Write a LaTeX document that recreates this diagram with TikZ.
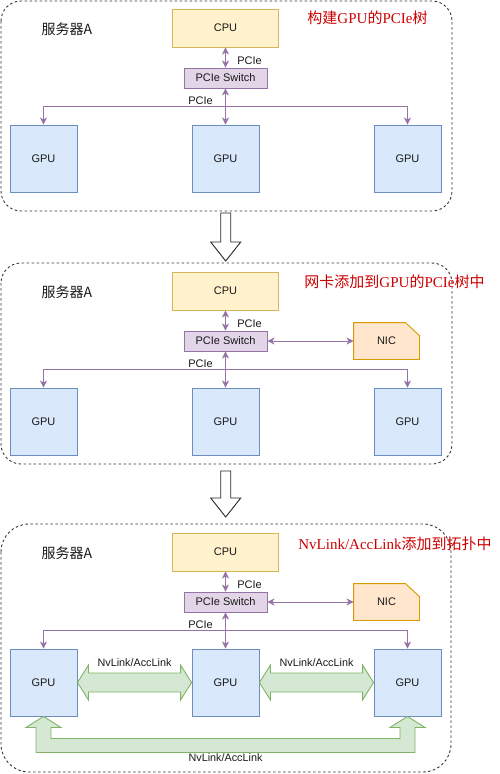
\documentclass[tikz,border=0pt]{standalone}
\usepackage{fontspec}
\setmainfont{Liberation Sans}
\newfontfamily\cjk{Noto Sans CJK SC}
\newfontfamily\tnr{Liberation Serif}
\usepackage{xcolor}
\usetikzlibrary{positioning,calc,arrows.meta,backgrounds}
\definecolor{cpufill}{HTML}{FFF2CC}
\definecolor{cpuline}{HTML}{D6B656}
\definecolor{swfill}{HTML}{E1D5E7}
\definecolor{swline}{HTML}{9673A6}
\definecolor{gpufill}{HTML}{DAE8FC}
\definecolor{gpuline}{HTML}{6C8EBF}
\definecolor{nicfill}{HTML}{FFE6CC}
\definecolor{nicline}{HTML}{D79B00}
\definecolor{nvfill}{HTML}{D5E8D4}
\definecolor{nvline}{HTML}{82B366}
\definecolor{titlered}{HTML}{CC0000}

\begin{document}
\begin{tikzpicture}[x=1pt,y=-1pt,
        >={Stealth[length=7pt,width=7pt,inset=2pt]},
        panel/.style={draw=black!80, line width=0.9pt, dash pattern=on 2.5pt off 2.5pt},
        box/.style={draw, line width=0.9pt, text=black!90, font=\fontsize{11}{13}\selectfont},
        cpubox/.style={box, draw=cpuline, fill=cpufill, minimum width=106pt, minimum height=38pt},
        swbox/.style={box, draw=swline, fill=swfill, minimum width=83pt, minimum height=20pt, inner sep=1pt},
        gpubox/.style={box, draw=gpuline, fill=gpufill, minimum size=67pt},
        nicbox/.style={box, draw=none, minimum width=65pt, minimum height=36pt},
        nicshape/.style={draw=nicline, fill=nicfill, line width=0.9pt},
        pcie/.style={draw=swline, line width=1pt},
        lbl/.style={text=black!90, font=\fontsize{11}{13}\selectfont, inner sep=0pt},
        nvlabel/.style={text=black!90, font=\fontsize{10.8}{12}\selectfont, inner sep=0pt},
        server/.style={text=black!90, font=\cjk\fontsize{14}{16}\selectfont, inner sep=0pt},
        title/.style={text=titlered, font=\tnr\fontsize{15}{18}\selectfont, inner sep=0pt},
        nvlink/.style={draw=nvline, fill=nvfill, line width=0.9pt},
        bigarrow/.style={draw=black!85, fill=white, line width=0.9pt}]
    \useasboundingbox (0,0) rectangle (500,774);

    % PCIe tree
    \begin{scope}
        \draw[panel, rounded corners=20pt] (1,1) rectangle (452,211);
        \node[server] (srv1) at (67,29) {服务器A};
        \node[title] (t1) at (367.5,18) {{\cjk 构建}GPU{\cjk 的}PCIe{\cjk 树}};
        \node[cpubox] (cpu1) at (225.5,28) {CPU};
        \node[swbox] (sw1) at (225.5,78) {PCIe Switch};
        \node[gpubox] (g1a) at (43.5,158.5) {GPU};
        \node[gpubox] (g1b) at (225.5,158.5) {GPU};
        \node[gpubox] (g1c) at (407.5,158.5) {GPU};
        \coordinate (bus1) at (225.5,106.5);
        \draw[pcie,<->] (cpu1) -- (sw1);
        \draw[pcie,<->] (sw1) -- (g1b);
        \draw[pcie,->] (bus1) -| (g1a.north);
        \draw[pcie,->] (bus1) -| (g1c.north);
        \node[lbl] at (249.5,61) {PCIe};
        \node[lbl] at (200.5,100.5) {PCIe};
    \end{scope}

    % NIC added
    \begin{scope}[yshift=-263pt]
        \draw[panel, rounded corners=20pt] (1,0) rectangle (452,201);
        \node[server] (srv2) at (67,29) {服务器A};
        \node[title] (t2) at (394.5,19) {{\cjk 网卡添加到}GPU{\cjk 的}PCIe{\cjk 树中}};
        \node[cpubox] (cpu2) at (225.5,28) {CPU};
        \node[swbox] (sw2) at (225.5,78) {PCIe Switch};
        \node[nicbox] (nic2) at (386.5,78) {NIC};
        \node[gpubox] (g2a) at (43.5,158.5) {GPU};
        \node[gpubox] (g2b) at (225.5,158.5) {GPU};
        \node[gpubox] (g2c) at (407.5,158.5) {GPU};
        \coordinate (bus2) at (225.5,106.5);
        \draw[pcie,<->] (cpu2) -- (sw2);
        \draw[pcie,<->] (sw2) -- (nic2);
        \draw[pcie,<->] (sw2) -- (g2b);
        \draw[pcie,->] (bus2) -| (g2a.north);
        \draw[pcie,->] (bus2) -| (g2c.north);
        \node[lbl] at (249.5,61) {PCIe};
        \node[lbl] at (200.5,100.5) {PCIe};
    \end{scope}

    % NvLink/AccLink added
    \begin{scope}[yshift=-524pt]
        \draw[panel, rounded corners=28pt] (1,0) rectangle (451,248);
        \node[server] (srv3) at (67,29) {服务器A};
        \node[title] (t3) at (395,20) {{NvLink/AccLink}{\cjk 添加到拓扑中}};
        \node[cpubox] (cpu3) at (225.5,28) {CPU};
        \node[swbox] (sw3) at (225.5,78) {PCIe Switch};
        \node[nicbox] (nic3) at (386.5,78) {NIC};
        \node[gpubox] (g3a) at (43.5,158.5) {GPU};
        \node[gpubox] (g3b) at (225.5,158.5) {GPU};
        \node[gpubox] (g3c) at (407.5,158.5) {GPU};
        \coordinate (bus3) at (225.5,106.5);
        \draw[pcie,<->] (cpu3) -- (sw3);
        \draw[pcie,<->] (sw3) -- (nic3);
        \draw[pcie,<->] (sw3) -- (g3b);
        \draw[pcie,->] (bus3) -| (g3a.north);
        \draw[pcie,->] (bus3) -| (g3c.north);
        \node[lbl] at (249.5,61) {PCIe};
        \node[lbl] at (200.5,100.5) {PCIe};
        \node[nvlabel] at (134.5,139) {NvLink/AccLink};
        \node[nvlabel] at (316.5,139) {NvLink/AccLink};
        \node[nvlabel] at (225.5,234) {NvLink/AccLink};
    \end{scope}

    % NIC cards
    \begin{scope}[on background layer]
        \foreach \n in {nic2,nic3}
            \filldraw[nicshape] (\n.south west) -- (\n.north west) -- ($(\n.north east)+(-14,0)$)
                -- ($(\n.north east)+(0,13)$) -- (\n.south east) -- cycle;
    \end{scope}

    % green links
    \filldraw[nvlink] (g3a.east) -- ++(11,-17.5) -- ++(0,8) -- ($(g3b.west)+(-11,-9.5)$) -- ++(0,-8)
        -- (g3b.west) -- ++(-11,17.5) -- ++(0,-8) -- ($(g3a.east)+(11,9.5)$) -- ++(0,8) -- cycle;
    \filldraw[nvlink] (g3b.east) -- ++(11,-17.5) -- ++(0,8) -- ($(g3c.west)+(-11,-9.5)$) -- ++(0,-8)
        -- (g3c.west) -- ++(-11,17.5) -- ++(0,-8) -- ($(g3b.east)+(11,9.5)$) -- ++(0,8) -- cycle;
    \filldraw[nvlink] (g3a.south) -- ++(17.5,11) -- ++(-10,0) -- ($(g3a.south)+(7.5,22)$)
        -- ($(g3c.south)+(-7.5,22)$) -- ++(0,-11) -- ++(-10,0) -- (g3c.south) -- ++(17.5,11)
        -- ++(-10,0) -- ($(g3c.south)+(7.5,36)$) -- ($(g3a.south)+(-7.5,36)$) -- ++(0,-25)
        -- ++(-10,0) -- cycle;

    % steps
    \draw[bigarrow] (220.7,213) -- ++(10,0) -- ++(0,29) -- ++(10,0) -- ++(-15,19) -- ++(-15,-19)
        -- ++(10,0) -- cycle;
    \draw[bigarrow] (220.7,471) -- ++(10,0) -- ++(0,27) -- ++(10,0) -- ++(-15,19) -- ++(-15,-19)
        -- ++(10,0) -- cycle;
\end{tikzpicture}
\end{document}
